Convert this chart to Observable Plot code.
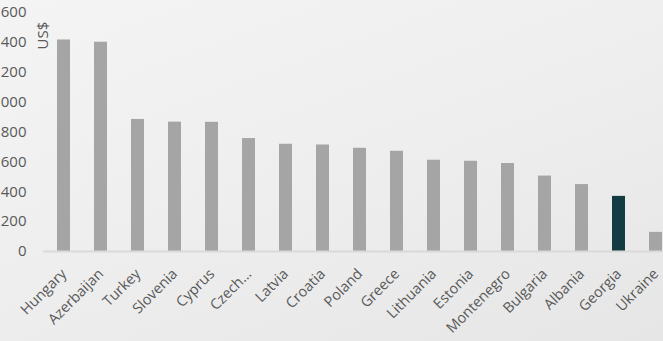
<!DOCTYPE html>
<html>
<head>
<meta charset="utf-8">
<script src="https://cdn.jsdelivr.net/npm/d3@7"></script>
<script src="https://cdn.jsdelivr.net/npm/@observablehq/plot@0.6"></script>
<style>
  html, body { margin: 0; padding: 0; overflow: hidden; width: 663px; height: 341px; }
  body { background: linear-gradient(160deg, #f4f4f4 0%, #eeeeee 50%, #e6e6e6 100%); }
  #chart { position: absolute; left: -20px; top: 0; width: 696px; height: 341px; }
  #chart svg { background: transparent; overflow: visible; max-width: none !important; width: 696px; height: 341px; }
</style>
</head>
<body>
<div id="chart"></div>
<script>
const countries = ["Hungary", "Azerbaijan", "Turkey", "Slovenia", "Cyprus", "Czech...", "Latvia", "Croatia", "Poland", "Greece", "Lithuania", "Estonia", "Montenegro", "Bulgaria", "Albania", "Georgia", "Ukraine"];
const values = [1416, 1401, 884, 866, 865, 756, 718, 713, 691, 671, 611, 604, 589, 505, 448, 369, 128];
const highlight = "Georgia";
const yTicks = [0, 200, 400, 600, 800, 1000, 1200, 1400, 1600];
const yLabel = "US$";

const data = countries.map((c, i) => ({country: c, value: values[i]}));

const chart = Plot.plot({
  width: 696,
  height: 341,
  marginLeft: 63,
  marginRight: 0,
  marginTop: 12,
  marginBottom: 90,
  style: {background: "transparent", fontFamily: "'Open Sans', sans-serif", fontSize: "15px", color: "#595959"},
  x: {domain: countries, paddingInner: 0.65, paddingOuter: 0.325},
  y: {domain: [0, 1600]},
  marks: [
    Plot.barY(data, {x: "country", y: "value", fill: d => d.country === highlight ? "#123c42" : "#a5a5a5"}),
    Plot.ruleY([0], {stroke: "#d9d9d9", strokeWidth: 2}),
    Plot.axisY({ticks: yTicks, tickSize: 0, tickPadding: 17, tickFormat: d => String(d), label: null, fill: "#595959", fontSize: 15}),
    Plot.axisX({tickSize: 0, tickRotate: -45, tickPadding: 20, label: null, fill: "#595959", dx: 0, fontSize: 14.5}),
    Plot.text([yLabel], {frameAnchor: "top-left", rotate: -90, dx: -6, dy: 23, textAnchor: "middle", fill: "#595959", fontSize: 15})
  ]
});
document.getElementById("chart").appendChild(chart);
</script>
</body>
</html>
